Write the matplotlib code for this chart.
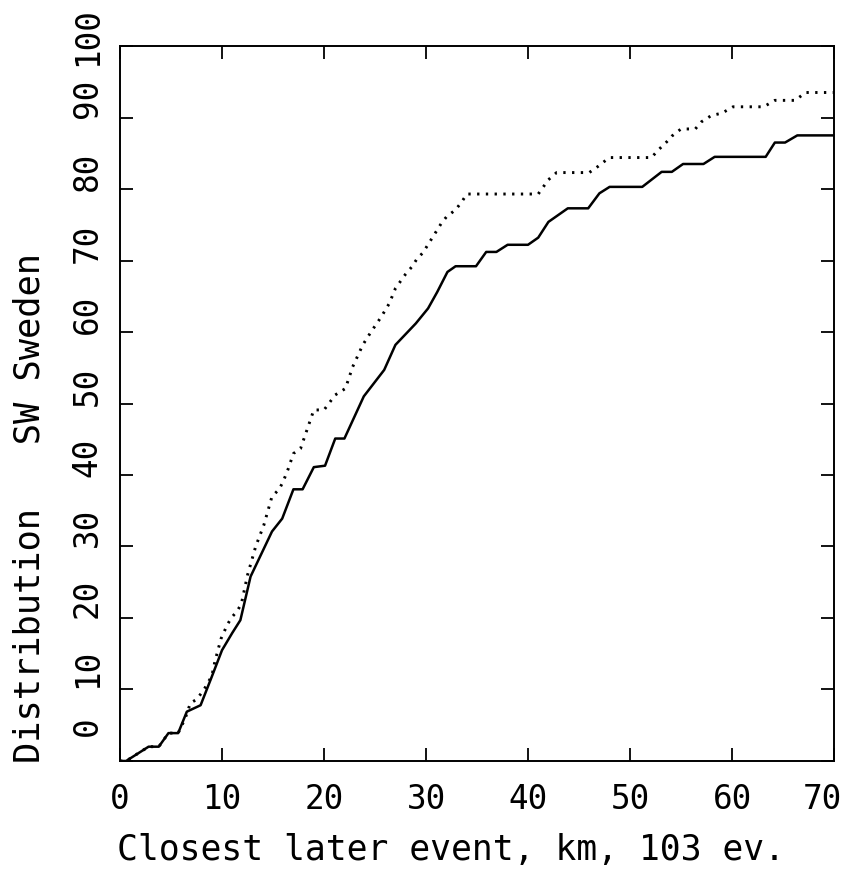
import numpy as np
import matplotlib.pyplot as plt
import matplotlib.transforms as mtransforms

# Closest later event distance (km) vs cumulative distribution (%)
solid_x = [0.0, 0.6, 2.8, 3.8, 4.75, 5.7, 6.55, 7.9, 9.0, 10.0, 11.0, 11.8, 12.8,
           14.9, 15.9, 17.0, 17.9, 19.0, 20.1, 21.1, 22.0, 23.9, 25.9, 27.0, 28.2,
           29.0, 30.2, 31.1, 32.1, 32.9, 34.9, 35.9, 36.9, 38.0, 40.0, 41.0, 42.0,
           43.0, 43.9, 45.9, 47.0, 48.0, 51.2, 53.1, 54.1, 55.2, 57.2, 58.3, 63.3,
           64.2, 65.2, 66.4, 70.0]
solid_y = [0.0, 0.0, 2.0, 2.0, 3.9, 3.9, 6.9, 7.8, 11.8, 15.5, 17.9, 19.7, 25.8,
           32.1, 33.9, 38.0, 38.0, 41.1, 41.3, 45.1, 45.1, 51.0, 54.7, 58.2, 60.0,
           61.2, 63.3, 65.6, 68.4, 69.2, 69.2, 71.2, 71.2, 72.2, 72.2, 73.2, 75.4,
           76.4, 77.3, 77.3, 79.4, 80.3, 80.3, 82.4, 82.4, 83.5, 83.5, 84.5, 84.5,
           86.5, 86.5, 87.5, 87.5]

dotted_x = [0.0, 0.6, 2.8, 3.8, 4.75, 5.7, 6.4, 6.9, 7.5, 8.2, 9.0, 9.3, 9.9, 10.5,
            10.9, 11.5, 11.9, 12.5, 13.3, 14.1, 14.9, 15.6, 16.0, 16.5, 17.0, 17.7,
            19.0, 20.0, 21.1, 22.1, 22.8, 23.8, 24.6, 25.6, 26.4, 27.0, 28.0, 28.6,
            29.1, 29.7, 31.5, 32.0, 32.9, 33.5, 34.0, 41.0, 41.5, 42.0, 42.8, 46.0,
            46.9, 47.7, 48.0, 52.1, 52.8, 53.6, 54.1, 55.0, 56.4, 57.0, 58.0, 59.0,
            60.1, 63.1, 64.2, 66.2, 67.2, 70.0]
dotted_y = [0.0, 0.0, 2.0, 2.0, 3.9, 3.9, 6.0, 8.1, 8.6, 9.9, 11.9, 13.9, 17.1, 19.0,
            20.0, 21.0, 22.0, 26.0, 30.0, 33.0, 37.0, 38.0, 39.1, 40.9, 43.0, 43.7,
            49.1, 49.1, 51.2, 52.1, 55.1, 58.2, 60.0, 62.1, 64.0, 66.1, 68.1, 69.1,
            70.2, 71.1, 75.2, 76.1, 77.1, 78.2, 79.3, 79.3, 80.3, 81.3, 82.3, 82.3,
            83.2, 84.1, 84.4, 84.4, 85.5, 86.6, 87.4, 88.4, 88.4, 89.4, 90.3, 90.6,
            91.5, 91.5, 92.4, 92.4, 93.5, 93.5]

x_ticks = [0, 10, 20, 30, 40, 50, 60, 70]
y_ticks = [0, 10, 20, 30, 40, 50, 60, 70, 80, 90, 100]

FONT = 'DejaVu Sans Mono'

fig = plt.figure(figsize=(8.5, 8.75), dpi=100)
ax = fig.add_axes([0.1412, 0.1303, 0.84, 0.8171])

ax.plot(solid_x, solid_y, color='black', lw=1.8, solid_joinstyle='round')
ax.plot(dotted_x, dotted_y, color='black', lw=2.1, linestyle=(0, (0.8, 2.2)),
        dash_capstyle='butt')

ax.set_xlim(0, 70)
ax.set_ylim(0, 100)
for s in ax.spines.values():
    s.set_linewidth(1.4)

ax.set_xticks(x_ticks)
ax.set_xticklabels([str(v) for v in x_ticks], fontfamily=FONT, fontsize=23.5)
ax.set_yticks(y_ticks)
ax.set_yticklabels([])
ax.tick_params(direction='in', length=9.5, width=1.3, top=True, right=True,
               pad=16)

# pull the last x label in from the right edge
last = ax.get_xticklabels()[-1]
last.set_transform(last.get_transform() +
                   mtransforms.ScaledTranslation(-0.12, 0, fig.dpi_scale_trans))

# y labels drawn rotated, sitting a little above their ticks
label_y = [4.8, 12.9, 22.8, 32.7, 42.5, 52.4, 62.5, 72.4, 82.5, 92.7, 101.3]
for v, ly in zip(y_ticks, label_y):
    ax.text(-0.046, ly, str(v), transform=ax.get_yaxis_transform(),
            rotation=90, ha='center', va='center', fontfamily=FONT,
            fontsize=23.5, clip_on=False)

fig.text(117, 875 - 850, 'Closest later event, km, 103 ev.',
         transform=None, ha='left', va='center', fontfamily=FONT, fontsize=25)
fig.text(30, 875 - 763, 'Distribution   SW Sweden', transform=None,
         rotation=90, ha='center', va='bottom', fontfamily=FONT, fontsize=25.5)

fig.savefig('out.png', dpi=100)
